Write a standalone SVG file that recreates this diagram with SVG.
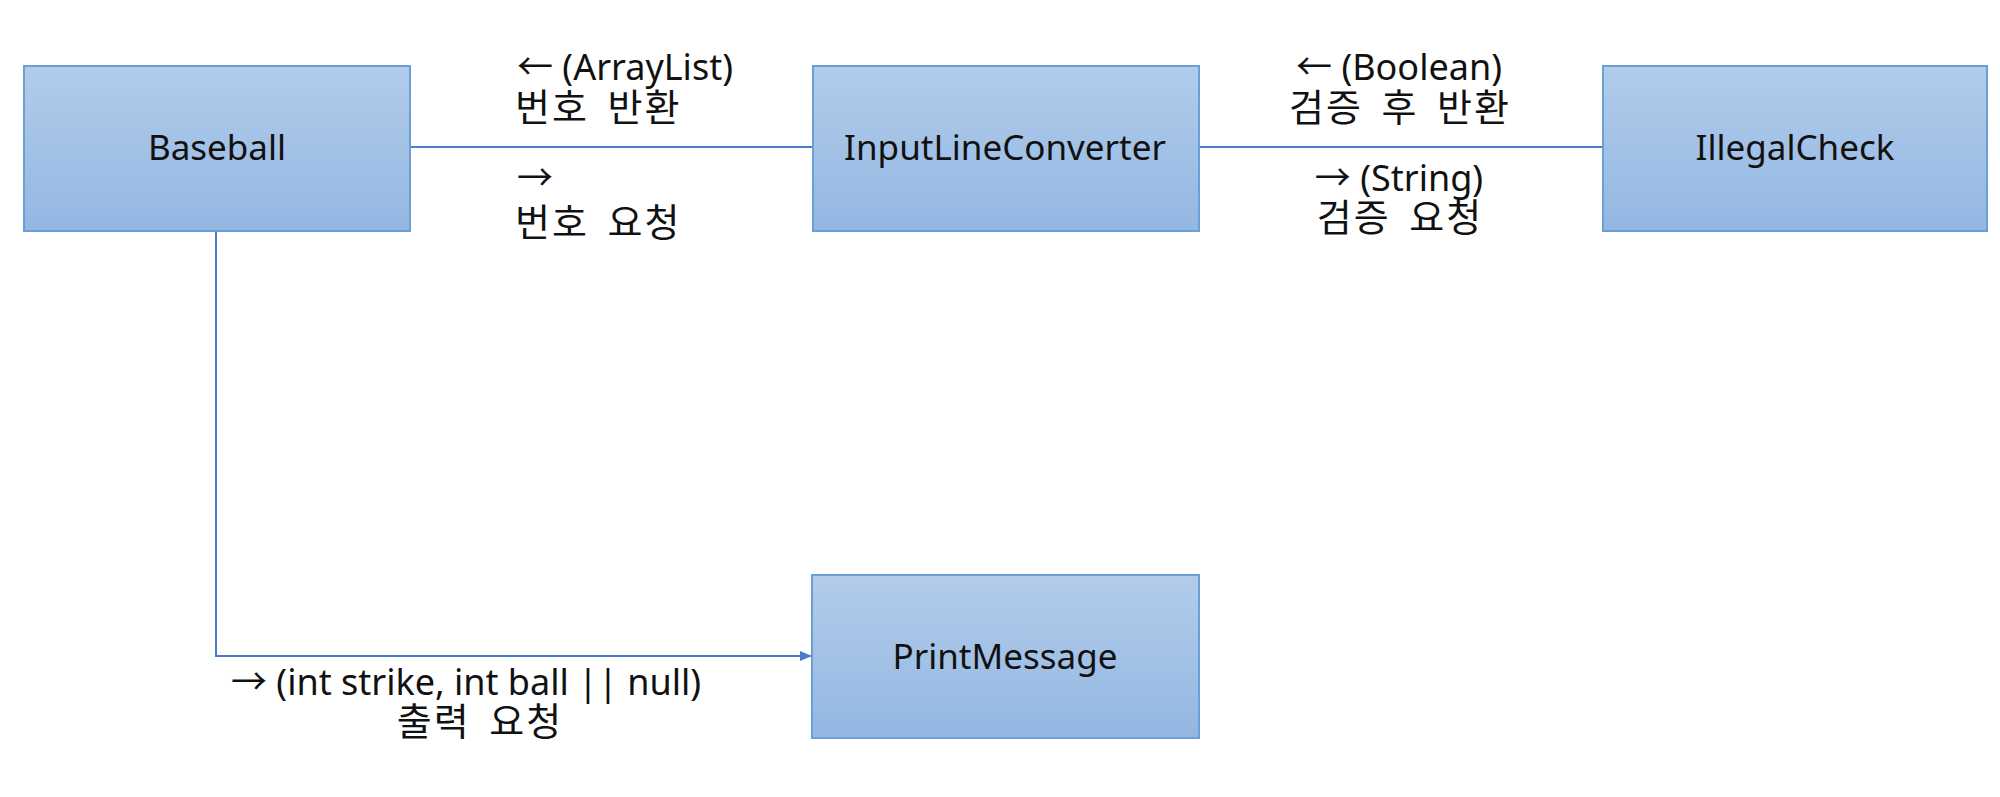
<svg xmlns="http://www.w3.org/2000/svg" width="2000" height="797" viewBox="0 0 2000 797">
  <style>
    .box { fill: url(#g); stroke: #6A9FD8; stroke-width: 2; }
    .lbl { font-family: "Noto Sans", "Noto Sans CJK KR", sans-serif; font-size: 36px; fill: #111; }
    .node { font-size: 35px; }
    .ko { font-family: "Noto Sans CJK KR", sans-serif; font-size: 38px; letter-spacing: 2px; word-spacing: 8px; }
    .c { text-anchor: middle; }
    .conn { stroke: #4A7CCB; stroke-width: 2; fill: none; }
  </style>
  <defs>
    <linearGradient id="g" x1="0" y1="0" x2="0" y2="1">
      <stop offset="0" stop-color="#B2CCEA"/>
      <stop offset="1" stop-color="#93B7E2"/>
    </linearGradient>
    <marker id="arr" viewBox="0 0 12 10" refX="12" refY="5" markerWidth="12" markerHeight="10" markerUnits="userSpaceOnUse" orient="auto">
      <path d="M0,0 L12,5 L0,10 z" fill="#4A7CCB"/>
    </marker>
  </defs>
  <rect width="2000" height="797" fill="#fff"/>

  <g id="connectors">
    <line class="conn" x1="410" y1="147" x2="813" y2="147"/>
    <line class="conn" x1="1199" y1="147" x2="1603" y2="147"/>
    <path class="conn" d="M216,231 V656 H812" marker-end="url(#arr)"/>
    <text class="lbl" x="517" y="80">← (ArrayList)</text>
    <text class="lbl ko" x="515" y="121">번호 반환</text>
    <text class="lbl" x="517" y="191">→</text>
    <text class="lbl ko" x="515" y="236">번호 요청</text>
    <text class="lbl c" x="1399" y="80">← (Boolean)</text>
    <text class="lbl ko c" x="1400" y="121">검증 후 반환</text>
    <text class="lbl c" x="1399" y="191">→ (String)</text>
    <text class="lbl ko c" x="1400" y="231">검증 요청</text>
    <text class="lbl c" x="466" y="695">→ (int strike, int ball || null)</text>
    <text class="lbl ko c" x="480" y="735">출력 요청</text>
  </g>

  <g id="node-baseball">
    <rect class="box" x="24" y="66" width="386" height="165"/>
    <text class="lbl node c" x="217" y="160">Baseball</text>
  </g>
  <g id="node-inputlineconverter">
    <rect class="box" x="813" y="66" width="386" height="165"/>
    <text class="lbl node c" x="1005" y="160">InputLineConverter</text>
  </g>
  <g id="node-illegalcheck">
    <rect class="box" x="1603" y="66" width="384" height="165"/>
    <text class="lbl node c" x="1795" y="160">IllegalCheck</text>
  </g>
  <g id="node-printmessage">
    <rect class="box" x="812" y="575" width="387" height="163"/>
    <text class="lbl node c" x="1005" y="669">PrintMessage</text>
  </g>
</svg>
